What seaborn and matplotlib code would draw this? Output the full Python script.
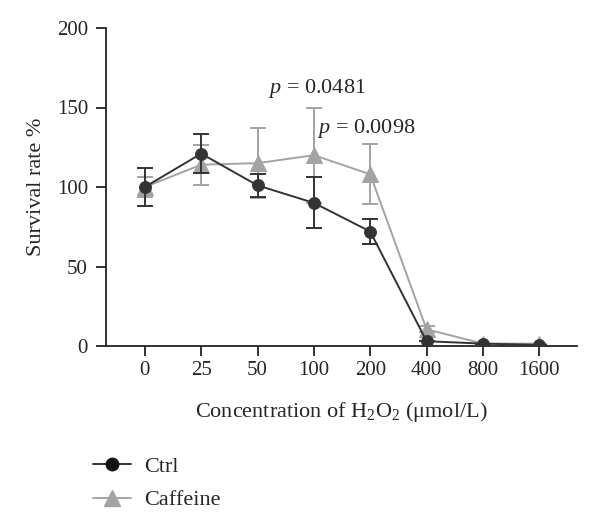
import matplotlib
matplotlib.use("Agg")
import matplotlib.pyplot as plt
import seaborn as sns
import pandas as pd
import numpy as np
from matplotlib.lines import Line2D

concentrations = ["0", "25", "50", "100", "200", "400", "800", "1600"]
ctrl_mean = [100, 121, 101, 90, 72, 3, 1.5, 0.7]
ctrl_err = [12, 12.5, 7, 16, 8, 0, 0, 0]
caff_mean = [100, 114, 115, 120, 108, 10.5, 1.5, 1.5]
caff_err = [6, 12.5, 22, 30, 19, 2, 0, 0]
series_names = ["Ctrl", "Caffeine"]
p_labels = ["0.0481", "0.0098"]

sns.set_style("ticks")
plt.rcParams['font.family'] = ['Liberation Serif', 'DejaVu Serif']
plt.rcParams['mathtext.fontset'] = 'custom'
plt.rcParams['mathtext.rm'] = 'Liberation Serif'
plt.rcParams['mathtext.it'] = 'Liberation Serif:italic'

fig = plt.figure(figsize=(6, 5.28), dpi=100)
ax = fig.add_axes([106/600, 1-346/528, (577-106)/600, (346-28)/528])

pos = np.arange(len(concentrations))
df = pd.DataFrame({
    "pos": np.concatenate([pos, pos]),
    "val": ctrl_mean + caff_mean,
    "err": ctrl_err + caff_err,
    "grp": [series_names[0]]*len(pos) + [series_names[1]]*len(pos),
})

c_ctrl = "#333333"
c_caff = "#a3a3a3"

sub = df[df.grp == "Caffeine"]
ax.errorbar(sub.pos, sub.val, yerr=sub.err, fmt='none', ecolor=c_caff, elinewidth=1.4, capsize=6, capthick=1.4, zorder=2)
sns.lineplot(data=sub, x="pos", y="val", color=c_caff, marker="^", markersize=11,
             markeredgecolor=c_caff, linewidth=1.4, ax=ax, zorder=3, legend=False)
sub = df[df.grp == "Ctrl"]
ax.errorbar(sub.pos, sub.val, yerr=sub.err, fmt='none', ecolor=c_ctrl, elinewidth=1.4, capsize=6, capthick=1.4, zorder=4)
sns.lineplot(data=sub, x="pos", y="val", color=c_ctrl, marker="o", markersize=8.5,
             markeredgecolor=c_ctrl, linewidth=1.4, ax=ax, zorder=5, legend=False)

ax.set_xlim(-0.69, 7.67)
ax.set_ylim(0, 200)
ax.set_xticks(pos)
ax.set_xticklabels(concentrations)
ax.set_yticks([0, 50, 100, 150, 200])
ax.tick_params(axis='both', labelsize=15, length=7, width=1.3, color="#222222")
ax.tick_params(axis='x', pad=4)
ax.tick_params(axis='y', pad=6)
for s in ["top", "right"]:
    ax.spines[s].set_visible(False)
for s in ["left", "bottom"]:
    ax.spines[s].set_linewidth(1.3)
    ax.spines[s].set_color("#222222")
ax.spines["bottom"].set_position(("data", 0))
ax.spines["left"].set_position(("data", -0.69))

ax.set_xlabel("Concentration of H$_2$O$_2$ (μmol/L)", fontsize=16, labelpad=14)
ax.set_ylabel("Survival rate %", fontsize=16, labelpad=8)

ax.text(3.05, 162, "$p$ = " + p_labels[0], fontsize=16, ha="center", va="center")
ax.text(3.93, 137, "$p$ = " + p_labels[1], fontsize=16, ha="center", va="center")

handles = [
    Line2D([0], [0], color=c_ctrl, marker="o", markersize=9, linewidth=1.4, markeredgecolor="#111111", markerfacecolor="#111111"),
    Line2D([0], [0], color=c_caff, marker="^", markersize=11, linewidth=1.4),
]
fig.legend(handles, series_names, loc="upper left", bbox_to_anchor=(73/600, 1-436/528),
           frameon=False, fontsize=16, handlelength=1.7, labelspacing=0.6, handletextpad=0.6)

fig.savefig("out.png", dpi=100)
